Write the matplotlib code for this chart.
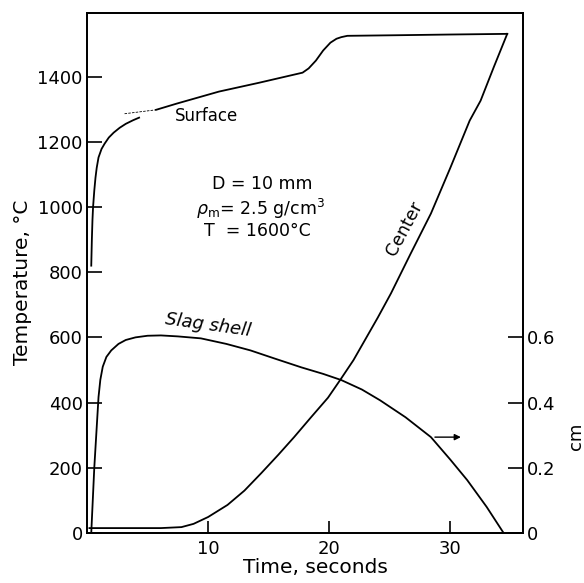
import matplotlib
matplotlib.use("Agg")
import matplotlib.pyplot as plt

plt.rcParams["font.family"] = "DejaVu Sans"
plt.rcParams["mathtext.fontset"] = "dejavusans"

# surface temperature (deg C) - lower branch, faint bridge, upper branch
surf_lo_t = [0.35, 0.4, 0.45, 0.5, 0.6, 0.7, 0.8, 0.95, 1.2, 1.45, 1.8, 2.2, 2.7, 3.2, 3.8, 4.3]
surf_lo_T = [820, 900, 960, 1000, 1050, 1090, 1120, 1152, 1178, 1194, 1213, 1228, 1243, 1255, 1266, 1274]
surf_hi_t = [3.1, 5.7, 7.4, 10.9, 14.2, 17.8, 18.3, 18.9, 19.5, 20.1, 20.6, 21.0, 21.5, 26, 30, 34.7]
surf_hi_T = [1286, 1298, 1317, 1354, 1381, 1412, 1425, 1449, 1480, 1504, 1516, 1521, 1525, 1527, 1529, 1531]

# center temperature (deg C)
center_t = [0.2, 3, 6.1, 7.8, 8.8, 10, 11.6, 13, 14.4, 15.8, 17.1, 18.5, 19.9, 20.9, 22,
            23, 24, 25.1, 26.7, 28.4, 30, 31.6, 32.5, 33.6, 34.7]
center_T = [15, 15, 15, 18, 28, 49, 86, 130, 184, 240, 294, 355, 415, 469, 530,
            595, 660, 735, 855, 980, 1120, 1265, 1326, 1430, 1531]

# slag shell thickness (cm, right axis)
shell_t = [0.35, 0.6, 0.95, 1.1, 1.3, 1.6, 2.0, 2.6, 3.2, 4.0, 5.0, 6.1, 7.5, 9.4, 11.5,
           13.5, 15.5, 17.7, 19.5, 21, 22.7, 24.2, 26.3, 28.4, 30, 31.4, 33, 34.4]
shell_cm = [0.0, 0.2, 0.417, 0.47, 0.51, 0.54, 0.56, 0.58, 0.592, 0.6, 0.605, 0.606, 0.603,
            0.597, 0.58, 0.56, 0.535, 0.508, 0.488, 0.469, 0.44, 0.407, 0.355, 0.294, 0.225,
            0.162, 0.08, 0.0]

temp_ticks = [0, 200, 400, 600, 800, 1000, 1200, 1400]
cm_ticks = [0, 0.2, 0.4, 0.6]
cm_labels = ["0", "0.2", "0.4", "0.6"]
time_ticks = [10, 20, 30]

fig = plt.figure(figsize=(5.84, 5.83), dpi=100)
ax = fig.add_axes([0.149, 0.0858, 0.7465, 0.8919])
ax2 = ax.twinx()

lw = 1.3
ax.plot(surf_lo_t, surf_lo_T, color="black", lw=lw)
ax.plot(surf_hi_t[:2], surf_hi_T[:2], color="black", lw=0.6, ls=(0, (3, 1.5)))
ax.plot(surf_hi_t[1:], surf_hi_T[1:], color="black", lw=lw)
ax.plot(center_t, center_T, color="black", lw=lw)
ax2.plot(shell_t, shell_cm, color="black", lw=lw)

ax.set_xlim(0, 36)
ax.set_ylim(0, 1595)
ax2.set_ylim(0, 1.595)

ax.set_xticks(time_ticks)
ax.set_yticks(temp_ticks)
ax2.set_yticks(cm_ticks)
ax2.set_yticklabels(cm_labels)

ax.tick_params(axis="both", direction="in", length=11, width=1.2, labelsize=13, pad=3)
ax.tick_params(axis="x", length=9, pad=5)
ax2.tick_params(axis="y", direction="in", length=11, width=1.2, labelsize=13, pad=3)
for sp in list(ax.spines.values()) + list(ax2.spines.values()):
    sp.set_linewidth(1.3)

ax.set_xlabel("Time, seconds", fontsize=14.5)
ax.xaxis.set_label_coords(0.525, -0.048)
ax.set_ylabel("Temperature, °C", fontsize=14.5)
ax.yaxis.set_label_coords(-0.126, 0.483)
ax2.set_ylabel("cm", fontsize=13)
ax2.yaxis.set_label_coords(1.101, 0.185)

ax.text(9.9, 1280, "Surface", fontsize=12, ha="center", va="center")
ax.text(10.3, 1072, "D = 10 mm", fontsize=12.5, ha="left", va="center")
ax.text(9.0, 995, r"$\rho_{\rm m}$= 2.5 g/cm$^3$", fontsize=12.5, ha="left", va="center")
ax.text(9.7, 925, "T  = 1600°C", fontsize=12.5, ha="left", va="center")
ax.text(10, 637, "Slag shell", fontsize=13, style="italic", rotation=-8,
        ha="center", va="center")
ax.text(26.2, 935, "Center", fontsize=12.5, rotation=62, ha="center", va="center")

ax2.annotate("", xy=(31.1, 0.294), xytext=(28.5, 0.294),
             arrowprops=dict(arrowstyle="-|>", color="black", lw=1.0, mutation_scale=9))

fig.savefig("out.png", dpi=100)
